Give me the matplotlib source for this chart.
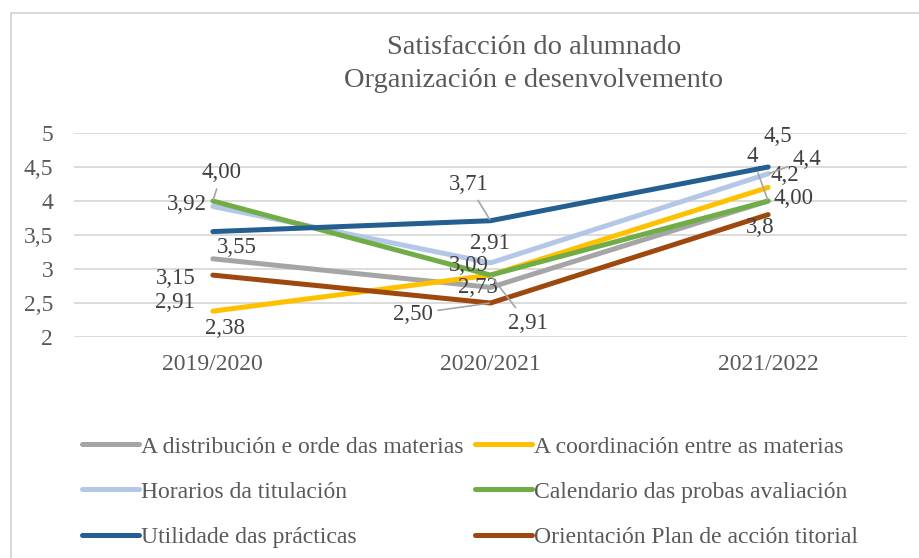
import matplotlib
matplotlib.use("Agg")
import matplotlib.pyplot as plt
from matplotlib.patches import Rectangle

plt.rcParams['font.family'] = ['Liberation Serif', 'DejaVu Serif']

# data
years = ["2019/2020", "2020/2021", "2021/2022"]
series_names = [
    "A distribución e orde das materias",
    "A coordinación entre as materias",
    "Horarios da titulación",
    "Calendario das probas avaliación",
    "Utilidade das prácticas",
    "Orientación Plan de acción titorial",
]
distribucion = [3.15, 2.73, 4.0]
coordinacion = [2.38, 2.91, 4.2]
horarios = [3.92, 3.09, 4.4]
calendario = [4.00, 2.91, 4.00]
utilidade = [3.55, 3.71, 4.5]
orientacion = [2.91, 2.50, 3.8]

# data label texts as shown in the chart
labels_distribucion = ["3,15", "2,73", "4"]
labels_coordinacion = ["2,38", "2,91", "4,2"]
labels_horarios = ["3,92", "3,09", "4,4"]
labels_calendario = ["4,00", "2,91", "4,00"]
labels_utilidade = ["3,55", "3,71", "4,5"]
labels_orientacion = ["2,91", "2,50", "3,8"]

y_ticks = [2, 2.5, 3, 3.5, 4, 4.5, 5]
y_tick_labels = ["2", "2,5", "3", "3,5", "4", "4,5", "5"]

colors = ["#A5A5A5", "#FFC000", "#B4C7E7", "#70AD47", "#255E91", "#9E480E"]

# label offsets in pixels (dx, dy up) and whether a leader line is drawn
offsets = [
    [(-37, -20, False), (-13, 0, False), (-16, 44, True)],
    [(12, -17, False), (-1, 32, False), (17, 12, False)],
    [(-26, 2, False), (-22, -3, False), (39, 14, True)],
    [(9, 28, True), (37, -48, True), (25, 3, False)],
    [(24, -16, False), (-22, 36, True), (10, 30, False)],
    [(-38, -27, False), (-78, -11, True), (-8, -13, False)],
]

W, H = 919, 558
fig = plt.figure(figsize=(W / 100, H / 100), dpi=100)
ax = fig.add_axes([74 / W, (H - 337) / H, (907 - 74) / W, (337 - 133) / H])

# chart border (only top and left visible)
fig.add_artist(Rectangle((10.5 / W, -0.1), 1.2, 1.1 - 13 / H, transform=fig.transFigure,
                         fill=False, edgecolor="#D9D9D9", lw=1.5))

all_values = [distribucion, coordinacion, horarios, calendario, utilidade, orientacion]
all_labels = [labels_distribucion, labels_coordinacion, labels_horarios,
              labels_calendario, labels_utilidade, labels_orientacion]

x = list(range(len(years)))
lines = []
for vals, name, col in zip(all_values, series_names, colors):
    ln, = ax.plot(x, vals, color=col, lw=3.6, solid_capstyle="round",
                  solid_joinstyle="round", label=name, zorder=3)
    lines.append(ln)

for vals, labs, offs in zip(all_values, all_labels, offsets):
    for xi, v, lab, (dx, dy, leader) in zip(x, vals, labs, offs):
        arrow = None
        if leader:
            arrow = dict(arrowstyle="-", color="#A6A6A6", lw=1.2, shrinkA=2, shrinkB=1)
        ax.annotate(lab, (xi, v), xytext=(dx * 0.72, dy * 0.72), textcoords="offset points",
                    ha="center", va="center", fontsize=16.5, color="#404040",
                    arrowprops=arrow, zorder=5)

ax.set_xlim(-0.5, 2.5)
ax.set_ylim(2, 5)
ax.set_xticks(x)
ax.set_xticklabels(years)
ax.set_yticks(y_ticks)
ax.set_yticklabels(y_tick_labels)
ax.tick_params(axis="both", length=0, labelsize=17, labelcolor="#595959")
ax.tick_params(axis="x", pad=12)
ax.tick_params(axis="y", pad=15)
ax.yaxis.grid(True, color="#D9D9D9", lw=1.3, zorder=0)
ax.set_axisbelow(True)
for s in ax.spines.values():
    s.set_visible(False)

fig.text(534 / W, 1 - 64 / H, "Satisfacción do alumnado\nOrganización e desenvolvemento",
         ha="center", va="center", fontsize=20.5, color="#595959", linespacing=1.4)

order = [0, 2, 4, 1, 3, 5]
leg = fig.legend([lines[i] for i in order], [series_names[i] for i in order],
                 loc="upper left", bbox_to_anchor=(82 / W, 1 - 436 / H), ncol=2,
                 frameon=False, fontsize=17, handlelength=2.4, handletextpad=0.1,
                 columnspacing=0.5, labelspacing=1.0, borderpad=0, borderaxespad=0)
for t in leg.get_texts():
    t.set_color("#595959")

fig.savefig("out.png", dpi=100)
